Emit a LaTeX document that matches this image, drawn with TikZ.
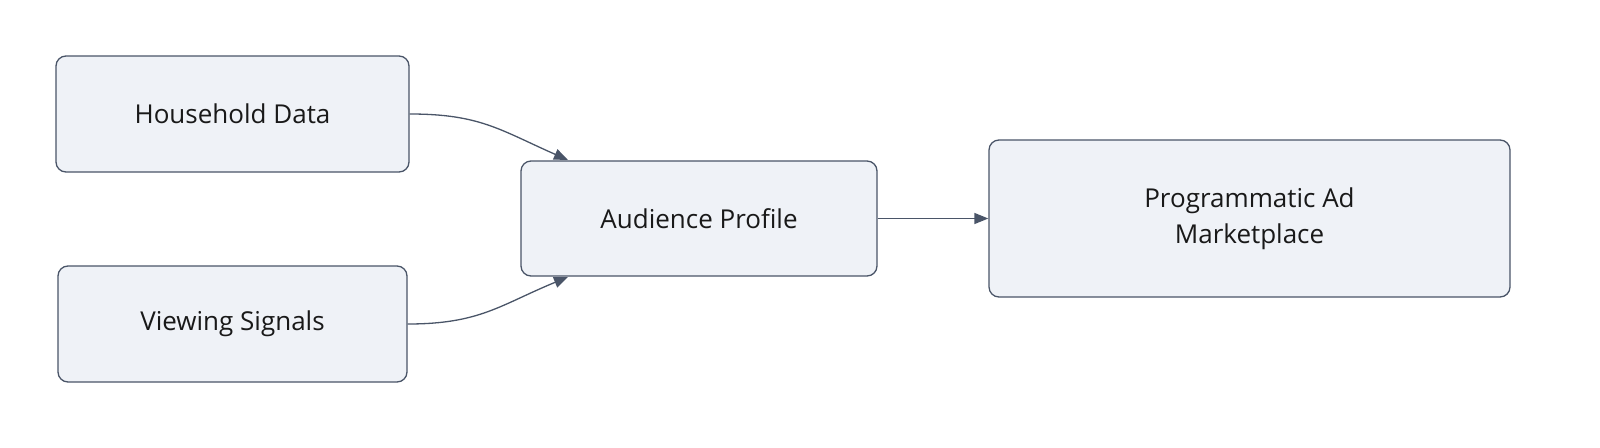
\documentclass[tikz,border=0pt]{standalone}
\usepackage{fontspec}
\setmainfont{Open Sans}
\usetikzlibrary{arrows.meta}
\definecolor{bx}{HTML}{EFF2F7}
\definecolor{ln}{HTML}{4A5568}
\begin{document}
\begin{tikzpicture}[x=1pt,y=-1pt,
 box/.style={draw=ln,fill=bx,rounded corners=10pt,line width=1.3pt,font=\fontsize{26}{36}\selectfont,text=black!90,align=center,inner sep=0pt},
 ar/.style={draw=ln,line width=1.3pt,-{Triangle[length=14pt,width=11pt]}}]
\useasboundingbox (0,0) rectangle (1600,447);
\node[box,minimum width=353pt,minimum height=116pt] (h) at (232.5,114) {Household Data};
\node[box,minimum width=349pt,minimum height=116pt] (v) at (232.5,324) {Viewing Signals};
\node[box,minimum width=356pt,minimum height=115pt] (a) at (699,218.5) {Audience Profile};
\node[box,minimum width=521pt,minimum height=157pt] (p) at (1249.5,218.5) {Programmatic Ad\\Marketplace};
\draw[ar] (h.east) .. controls (480,114) and (500,130) .. (568,160);
\draw[ar] (v.east) .. controls (480,324) and (500,305) .. (568,277);
\draw[ar] (a.east) -- (p.west);
\end{tikzpicture}
\end{document}
